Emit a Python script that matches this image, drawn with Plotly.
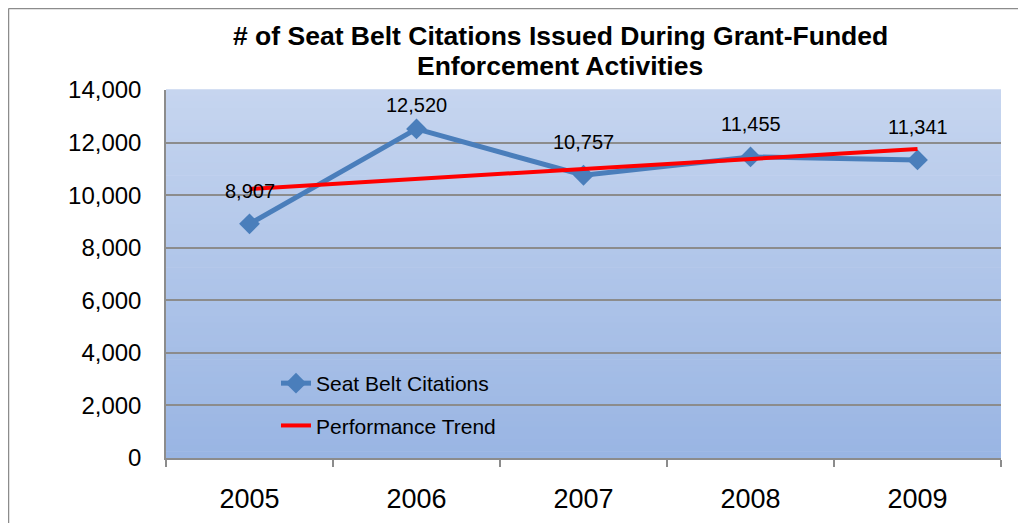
import plotly.graph_objects as go
import numpy as np

years = ["2005", "2006", "2007", "2008", "2009"]
citations = [8907, 12520, 10757, 11455, 11341]
label_shift = [33, 24, 33, 33, 33]
y_ticks = [0, 2000, 4000, 6000, 8000, 10000, 12000, 14000]

# Linear performance trend fitted to the citation values
idx = np.arange(len(years))
slope, intercept = np.polyfit(idx, citations, 1)
trend = slope * idx + intercept

OFF = 8  # page body margin
W, H = 1026 - 2 * OFF, 531 - 2 * OFF
# plot area in page pixels: x 166..1001, y 90..458
L, T = 166 - OFF, 90 - OFF
R = W - (1001 - OFF)
B = H - (458 - OFF)
pw, ph = W - L - R, H - T - B

def px_x(p):
    return (p - OFF - L) / pw

def px_y(p):
    return (H - B - (p - OFF)) / ph

fig = go.Figure()
fig.add_trace(go.Scatter(
    x=years, y=citations, mode="lines+markers", name="Seat Belt Citations",
    line=dict(color="#4A7EBB", width=5),
    marker=dict(symbol="diamond", size=16, color="#4A7EBB"),
    legendgroup="a",
))
fig.add_trace(go.Scatter(
    x=years, y=trend, mode="lines", name="Performance Trend",
    line=dict(color="#FF0000", width=4),
    legendgroup="b",
))

# gradient plot background
shapes = []
n = 60
top = np.array([198, 213, 239])
bot = np.array([153, 181, 227])
for i in range(n):
    t = (i + 0.5) / n
    c = top * (1 - t) + bot * t
    shapes.append(dict(
        type="rect", xref="x domain", yref="y domain",
        x0=0, x1=1, y0=1 - (i + 1) / n, y1=1 - i / n + 0.002,
        fillcolor="rgb(%d,%d,%d)" % tuple(c.round().astype(int)),
        line=dict(width=0), layer="below",
    ))
# outer chart border (top and left edges visible)
border = dict(color="#8C8C8C", width=1.5)
shapes.append(dict(type="line", xref="paper", yref="paper",
                   x0=px_x(8.5), x1=px_x(1040), y0=px_y(8.5), y1=px_y(8.5),
                   line=border, layer="below"))
shapes.append(dict(type="line", xref="paper", yref="paper",
                   x0=px_x(8.5), x1=px_x(8.5), y0=px_y(8.5), y1=px_y(560),
                   line=border, layer="below"))

annotations = []
for i, v, s in zip(idx, citations, label_shift):
    annotations.append(dict(
        xref="x", yref="y", x=int(i), y=v, text=f"{v:,}", showarrow=False, yshift=s,
        font=dict(family="Liberation Sans, Arial", size=20, color="black"),
    ))
for txt, py in [("# of Seat Belt Citations Issued During Grant-Funded", 36),
                ("Enforcement Activities", 66)]:
    annotations.append(dict(
        xref="paper", yref="paper", x=px_x(560), y=px_y(py), text="<b>%s</b>" % txt,
        showarrow=False, xanchor="center", yanchor="middle",
        font=dict(family="Liberation Sans, Arial", size=26.5, color="black"),
    ))

fig.update_layout(
    width=W, height=H,
    margin=dict(l=L, r=R, t=T, b=B, pad=0),
    paper_bgcolor="white", plot_bgcolor="rgba(0,0,0,0)",
    font=dict(family="Liberation Sans, Arial", color="black"),
    shapes=shapes, annotations=annotations,
    legend=dict(
        x=px_x(276), y=px_y(363), xanchor="left", yanchor="top",
        bgcolor="rgba(0,0,0,0)", font=dict(size=21, color="black"),
        tracegroupgap=12,
    ),
    xaxis=dict(
        type="category", range=[-0.5, 4.5], tickson="boundaries",
        ticks="outside", ticklen=7, tickcolor="#8C8C8C", tickwidth=1.5,
        showline=True, linecolor="#8C8C8C", linewidth=1.5, showgrid=False,
        tickfont=dict(size=27), ticklabelstandoff=16, automargin=False,
    ),
    yaxis=dict(
        range=[0, 14000], tickvals=y_ticks, tickformat=",",
        showgrid=True, gridcolor="#8C8C8C", gridwidth=1.5, zeroline=False,
        showline=True, linecolor="#8C8C8C", linewidth=1.5,
        tickfont=dict(size=24), ticklabelstandoff=18, ticks="", automargin=False,
    ),
    showlegend=True,
)

fig.write_html("out.html")
